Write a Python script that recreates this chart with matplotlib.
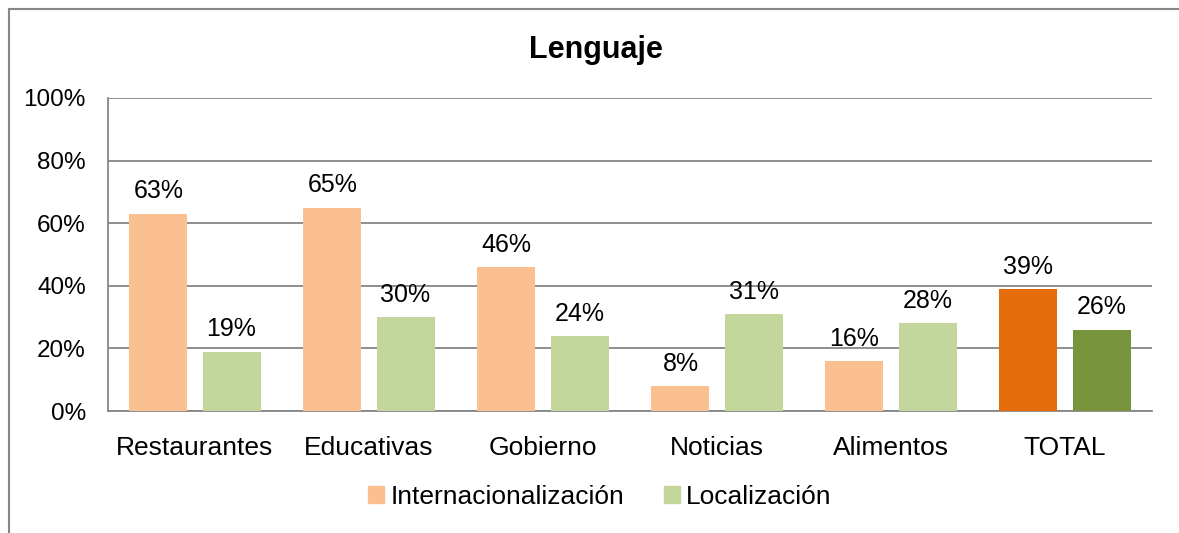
import matplotlib.pyplot as plt
import numpy as np
from matplotlib.patches import Rectangle
from matplotlib.lines import Line2D

plt.rcParams['font.family'] = ['Liberation Sans', 'DejaVu Sans']

# datos
categorias = ["Restaurantes", "Educativas", "Gobierno", "Noticias", "Alimentos", "TOTAL"]
internacionalizacion = [63, 65, 46, 8, 16, 39]
localizacion = [19, 30, 24, 31, 28, 26]

col_int = ['#FAC090'] * 5 + ['#E46C0A']
col_loc = ['#C3D69B'] * 5 + ['#77933C']

fig = plt.figure(figsize=(11.79, 5.33), dpi=100)
ax = fig.add_axes([108 / 1179, 1 - 411 / 533, (1152 - 108) / 1179, (411 - 98) / 533])

x = np.arange(len(categorias))
w = 0.333
off = 0.21
b1 = ax.bar(x - off, internacionalizacion, w, color=col_int, zorder=3,
            label='Internacionalización')
b2 = ax.bar(x + off, localizacion, w, color=col_loc, zorder=3,
            label='Localización')

for barras, vals in [(b1, internacionalizacion), (b2, localizacion)]:
    for b, v in zip(barras, vals):
        ax.text(b.get_x() + b.get_width() / 2, v + 3.3, f"{v}%",
                ha='center', va='bottom', fontsize=18)

ax.set_xlim(-0.5, len(categorias) - 0.5)
ax.set_ylim(0, 100)
ax.set_yticks(range(0, 101, 20))
ax.set_yticklabels([f"{t}%" for t in range(0, 101, 20)], fontsize=17.5)
ax.set_xticks(x)
ax.set_xticklabels(categorias, fontsize=19)
ax.tick_params(axis='x', length=0, pad=18)
ax.tick_params(axis='y', length=0, pad=16)
ax.grid(axis='y', color='#868686', linewidth=1.3, zorder=0)
for s in ['top', 'right']:
    ax.spines[s].set_visible(False)
for s in ['left', 'bottom']:
    ax.spines[s].set_color('#868686')
    ax.spines[s].set_linewidth(1.3)

fig.text(596 / 1179, 1 - 50 / 533, "Lenguaje", ha='center', va='center',
         fontsize=22, fontweight='bold')

h1 = Rectangle((0, 0), 1, 1, color='#FAC090')
h2 = Rectangle((0, 0), 1, 1, color='#C3D69B')
fig.legend([h1, h2], ['Internacionalización', 'Localización'], loc='center',
           bbox_to_anchor=(600 / 1179, 1 - 497 / 533), ncol=2, frameon=False,
           fontsize=19, handlelength=0.6, handleheight=0.6, handletextpad=0.25,
           columnspacing=1.5)

# marco exterior (recortado a la derecha y abajo)
fx = 8.5 / 1179
fy = 1 - 8.5 / 533
fig.add_artist(Line2D([fx, fx], [0, fy], transform=fig.transFigure,
                      color='#868686', linewidth=1.5))
fig.add_artist(Line2D([fx, 1], [fy, fy], transform=fig.transFigure,
                      color='#868686', linewidth=1.5))

fig.savefig("out.png", dpi=100)
